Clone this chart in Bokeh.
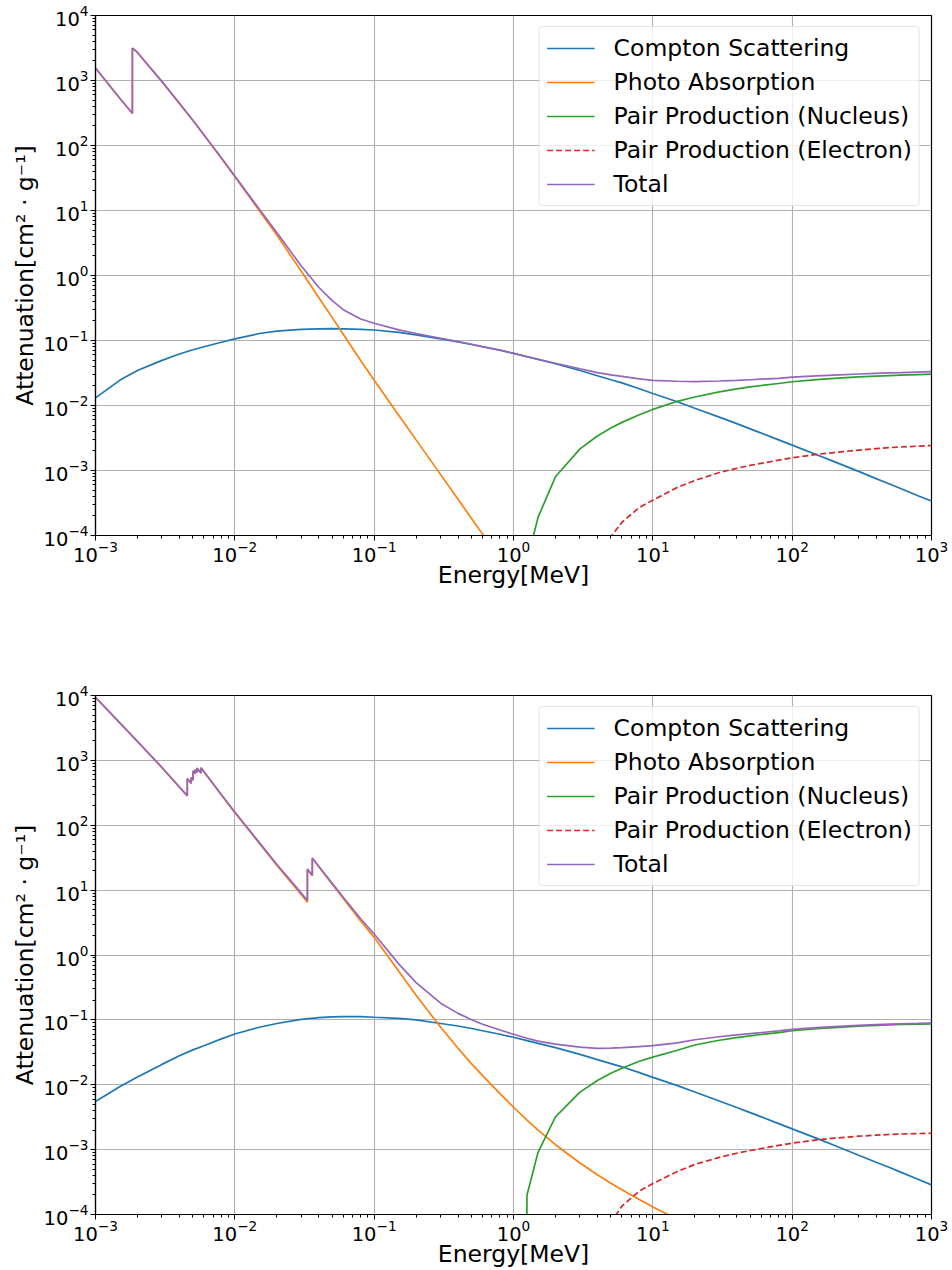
import numpy as np
from bokeh.plotting import figure
from bokeh.models import Range1d, FixedTicker, LogTickFormatter
from bokeh.layouts import column
from bokeh.embed import file_html
from bokeh.resources import INLINE

# ---------------- Data: upper panel (Si) ----------------
si_compton_E = [0.001, 0.0015, 0.002, 0.003, 0.004, 0.005, 0.006, 0.008, 0.01, 0.015, 0.02, 0.03, 0.04, 0.05,
                0.06, 0.08, 0.1, 0.15, 0.2, 0.3, 0.4, 0.5, 0.6, 0.8, 1.0, 1.25, 1.5, 2.0, 3.0, 4.0, 5.0, 6.0, 8.0,
                10.0, 15.0, 20.0, 30.0, 40.0, 50.0, 60.0, 80.0, 100.0, 150.0, 200.0, 300.0, 400.0, 500.0, 600.0,
                800.0, 1000.0]
si_compton = [0.0131, 0.0246, 0.0345, 0.0495, 0.062, 0.072, 0.080, 0.094, 0.106, 0.128, 0.139, 0.148, 0.151, 0.152,
              0.151, 0.148, 0.145, 0.1335, 0.122, 0.106, 0.095, 0.0869, 0.0801, 0.0707, 0.0634, 0.0563, 0.0512,
              0.0439, 0.0346, 0.0287, 0.0249, 0.0223, 0.0181, 0.0153, 0.0114, 0.00908, 0.00662, 0.00526, 0.00437,
              0.00376, 0.00296, 0.00246, 0.00175, 0.00137, 0.00097, 0.00075, 0.00062, 0.00053, 0.00041, 0.00034]

si_photo_E = [0.001, 0.0015, 0.001839, 0.001839, 0.002, 0.003, 0.004, 0.005, 0.006, 0.008, 0.01, 0.015, 0.02, 0.03,
              0.04, 0.05, 0.06, 0.08, 0.1, 0.15, 0.2, 0.3, 0.4, 0.5, 0.6, 0.8, 1.0]
si_photo = [1550, 525, 310, 3140, 2700, 960, 445, 242, 145, 63.5, 33.0, 9.9, 4.2, 1.16, 0.46, 0.225, 0.125, 0.0494,
            0.0244, 0.0071, 0.00296, 0.000864, 0.000361, 0.000183, 0.000105, 5.5e-5, 3.3e-5]

si_pairn_E = [1.022, 1.25, 1.5, 2.0, 3.0, 4.0, 5.0, 6.0, 8.0, 10.0, 15.0, 20.0, 30.0, 40.0, 50.0, 60.0, 80.0, 100.0,
              150.0, 200.0, 300.0, 400.0, 500.0, 600.0, 800.0, 1000.0]
si_pairn = [0.0, 4e-5, 1.9e-4, 8e-4, 2.15e-3, 3.4e-3, 4.5e-3, 5.5e-3, 7.2e-3, 8.7e-3, 1.16e-2, 1.35e-2, 1.62e-2,
            1.8e-2, 1.93e-2, 2.03e-2, 2.18e-2, 2.32e-2, 2.5e-2, 2.61e-2, 2.75e-2, 2.83e-2, 2.89e-2, 2.93e-2,
            2.99e-2, 3.03e-2]

si_paire_E = [2.044, 3.0, 4.0, 5.0, 6.0, 8.0, 10.0, 15.0, 20.0, 30.0, 40.0, 50.0, 60.0, 80.0, 100.0, 150.0, 200.0,
              300.0, 400.0, 500.0, 600.0, 800.0, 1000.0]
si_paire = [0.0, 6e-6, 3e-5, 9.5e-5, 1.6e-4, 2.7e-4, 3.5e-4, 5.5e-4, 7.0e-4, 9.3e-4, 1.08e-3, 1.2e-3, 1.29e-3,
            1.44e-3, 1.57e-3, 1.77e-3, 1.89e-3, 2.06e-3, 2.17e-3, 2.25e-3, 2.3e-3, 2.37e-3, 2.42e-3]

si_total_E = [0.001, 0.0015, 0.001839, 0.001839, 0.002, 0.003, 0.004, 0.005, 0.006, 0.008, 0.01, 0.015, 0.02, 0.03,
              0.04, 0.05, 0.06, 0.08, 0.1, 0.15, 0.2, 0.3, 0.4, 0.5, 0.6, 0.8, 1.0, 1.25, 1.5, 2.0, 3.0, 4.0, 5.0,
              6.0, 8.0, 10.0, 15.0, 20.0, 30.0, 40.0, 50.0, 60.0, 80.0, 100.0, 150.0, 200.0, 300.0, 400.0, 500.0,
              600.0, 800.0, 1000.0]
si_total = [1555, 529, 313, 3144, 2703, 962, 447, 244, 146.5, 64.6, 33.9, 10.45, 4.6, 1.40, 0.66, 0.41, 0.298, 0.214,
            0.184, 0.1456, 0.128, 0.1082, 0.0962, 0.0875, 0.0806, 0.071, 0.0636, 0.0564, 0.0514, 0.0447, 0.0368,
            0.0321, 0.0295, 0.0280, 0.0256, 0.0244, 0.0236, 0.0233, 0.0238, 0.0243, 0.0249, 0.0254, 0.0262, 0.0273,
            0.0285, 0.0294, 0.0305, 0.0312, 0.0318, 0.0321, 0.0327, 0.0331]

# ---------------- Data: lower panel (CsI) ----------------
csi_compton_E = si_compton_E
csi_compton = [0.0055, 0.0094, 0.0132, 0.0206, 0.0279, 0.0345, 0.040, 0.051, 0.0605, 0.077, 0.088, 0.102, 0.108,
               0.111, 0.112, 0.1125, 0.1097, 0.1055, 0.100, 0.088, 0.0805, 0.0737, 0.068, 0.060, 0.0539, 0.0479,
               0.0435, 0.0374, 0.0294, 0.0244, 0.0212, 0.0189, 0.0154, 0.0130, 0.0097, 0.00772, 0.00563, 0.00447,
               0.00372, 0.0032, 0.00252, 0.00209, 0.00149, 0.00117, 0.00082, 0.00064, 0.00053, 0.00045, 0.00035,
               0.000286]

csi_photo_E = [0.001, 0.0015, 0.002, 0.003, 0.004, 0.004557, 0.004557, 0.004852, 0.004852, 0.005012, 0.005012,
               0.005188, 0.005188, 0.005359, 0.005359, 0.005714, 0.005714, 0.006, 0.008, 0.01, 0.015, 0.02, 0.03,
               0.03317, 0.03317, 0.03598, 0.03598, 0.04, 0.05, 0.06, 0.08, 0.1, 0.15, 0.2, 0.3, 0.4, 0.5, 0.6, 0.8,
               1.0, 1.25, 1.5, 2.0, 3.0, 4.0, 5.0, 6.0, 8.0, 10.0, 15.0, 20.0]
csi_photo = [9380, 3745, 1952, 772, 386, 283, 522, 442, 542, 494, 687, 623, 717, 652, 757, 636, 767, 667, 294, 156,
             52.5, 24.2, 8.5, 6.49, 20.8, 16.6, 30.9, 23.0, 12.3, 7.45, 3.35, 1.87, 0.56, 0.24, 0.077, 0.0365,
             0.021, 0.0138, 0.0073, 0.0045, 0.00285, 0.0020, 0.00119, 0.000622, 0.00041, 0.000303, 0.00024,
             0.00017, 0.000131, 8.4e-5, 6.2e-5]

csi_pairn_E = si_pairn_E
csi_pairn = [0.0, 2.0e-4, 9.1e-4, 3.2e-3, 7.7e-3, 1.16e-2, 1.5e-2, 1.8e-2, 2.3e-2, 2.66e-2, 3.4e-2, 4.1e-2, 4.85e-2,
             5.33e-2, 5.68e-2, 5.95e-2, 6.38e-2, 6.8e-2, 7.3e-2, 7.6e-2, 8.0e-2, 8.25e-2, 8.4e-2, 8.5e-2, 8.6e-2,
             8.7e-2]

csi_paire_E = si_paire_E
csi_paire = [0.0, 3e-6, 1.5e-5, 7.5e-5, 1.35e-4, 2.3e-4, 3.0e-4, 4.6e-4, 5.9e-4, 7.6e-4, 8.8e-4, 9.7e-4, 1.04e-3,
             1.16e-3, 1.26e-3, 1.41e-3, 1.5e-3, 1.61e-3, 1.67e-3, 1.71e-3, 1.74e-3, 1.77e-3, 1.79e-3]

csi_total_E = [0.001, 0.0015, 0.002, 0.003, 0.004, 0.004557, 0.004557, 0.004852, 0.004852, 0.005012, 0.005012,
               0.005188, 0.005188, 0.005359, 0.005359, 0.005714, 0.005714, 0.006, 0.008, 0.01, 0.015, 0.02, 0.03,
               0.03317, 0.03317, 0.03598, 0.03598, 0.04, 0.05, 0.06, 0.08, 0.1, 0.15, 0.2, 0.3, 0.4, 0.5, 0.6, 0.8,
               1.0, 1.25, 1.5, 2.0, 3.0, 4.0, 5.0, 6.0, 8.0, 10.0, 15.0, 20.0, 30.0, 40.0, 50.0, 60.0, 80.0, 100.0,
               150.0, 200.0, 300.0, 400.0, 500.0, 600.0, 800.0, 1000.0]
csi_total = [9400, 3760, 1962, 778, 390, 286, 525, 445, 545, 497, 690, 626, 720, 655, 760, 639, 770, 671, 297, 160,
             54, 25.1, 9.0, 6.9, 21.2, 17.0, 31.3, 23.4, 12.7, 7.76, 3.62, 2.11, 0.73, 0.375, 0.181, 0.126, 0.1007,
             0.0858, 0.0698, 0.060, 0.052, 0.0471, 0.0422, 0.0379, 0.0364, 0.0366, 0.0373, 0.0388, 0.0400, 0.0442,
             0.0494, 0.0549, 0.0587, 0.0615, 0.0637, 0.0675, 0.0714, 0.0759, 0.0787, 0.0824, 0.0848, 0.0862,
             0.0872, 0.0881, 0.0891]

labels = ["Compton Scattering", "Photo Absorption", "Pair Production (Nucleus)",
          "Pair Production (Electron)", "Total"]
colors = ["#1f77b4", "#ff7f0e", "#2ca02c", "#d62728", "#9467bd"]
dashes = ["solid", "solid", "solid", "6 3", "solid"]

x_major = [10.0 ** k for k in range(-3, 4)]
x_minor = [m * 10.0 ** k for k in range(-3, 3) for m in range(2, 10)]
y_major = [10.0 ** k for k in range(-4, 5)]
y_minor = [m * 10.0 ** k for k in range(-4, 4) for m in range(2, 10)]

FONT = "DejaVu Sans"


def floor_nonpositive(values):
    # emulate log-axis clipping of non-positive values
    return [v if v > 0 else 1e-30 for v in values]


def make_panel(series, height, top, bottom):
    p = figure(width=952, height=height, x_axis_type="log", y_axis_type="log",
               x_range=Range1d(1e-3, 1e3), y_range=Range1d(1e-4, 1e4),
               output_backend="svg", toolbar_location=None,
               min_border_left=95, min_border_right=21, min_border_top=top, min_border_bottom=bottom)
    p.outline_line_color = "black"
    p.outline_line_width = 1.2
    p.outline_line_alpha = 1.0
    for (xs, ys), lab, col, dash in zip(series, labels, colors, dashes):
        p.line(xs, floor_nonpositive(ys), line_color=col, line_width=1.7, line_dash=dash, legend_label=lab)

    p.xaxis.ticker = FixedTicker(ticks=x_major, minor_ticks=x_minor)
    p.yaxis.ticker = FixedTicker(ticks=y_major, minor_ticks=y_minor)
    p.xaxis.formatter = LogTickFormatter()
    p.yaxis.formatter = LogTickFormatter()
    p.xaxis.axis_label = "Energy[MeV]"
    p.yaxis.axis_label = "Attenuation[cm² · g⁻¹]"
    for ax in (p.xaxis[0], p.yaxis[0]):
        ax.major_label_text_font = FONT
        ax.major_label_text_font_size = "19.5px"
        ax.major_label_text_color = "black"
        ax.axis_label_text_font = FONT
        ax.axis_label_text_font_size = "23.5px"
        ax.axis_label_text_font_style = "normal"
        ax.axis_label_text_color = "black"
        ax.axis_line_color = "black"
        ax.axis_line_width = 1.2
        ax.major_tick_line_color = "black"
        ax.minor_tick_line_color = "black"
        ax.major_tick_in = 0
        ax.major_tick_out = 5
        ax.minor_tick_in = 0
        ax.minor_tick_out = 3
    p.xaxis[0].major_label_standoff = 0
    p.xaxis[0].axis_label_standoff = -4
    p.yaxis[0].major_label_standoff = 2
    p.yaxis[0].axis_label_standoff = 2
    p.xgrid.grid_line_color = "#b0b0b0"
    p.ygrid.grid_line_color = "#b0b0b0"
    p.xgrid.grid_line_width = 1.1
    p.ygrid.grid_line_width = 1.1

    lg = p.legend[0]
    lg.location = "top_right"
    lg.margin = 11
    lg.padding = 7
    lg.spacing = 6
    lg.glyph_width = 48
    lg.glyph_height = 28
    lg.label_height = 28
    lg.label_standoff = 19
    lg.label_text_font = FONT
    lg.label_text_font_size = "23.5px"
    lg.label_text_color = "black"
    lg.border_line_color = "#cccccc"
    lg.border_line_width = 1
    lg.background_fill_color = "white"
    lg.background_fill_alpha = 0.8
    try:
        lg.border_radius = 4
    except Exception:
        pass
    return p


top_series = [(si_compton_E, si_compton), (si_photo_E, si_photo), (si_pairn_E, si_pairn),
              (si_paire_E, si_paire), (si_total_E, si_total)]
bot_series = [(csi_compton_E, csi_compton), (csi_photo_E, csi_photo), (csi_pairn_E, csi_pairn),
              (csi_paire_E, csi_paire), (csi_total_E, csi_total)]

p1 = make_panel(top_series, height=600, top=15, bottom=65)
p2 = make_panel(bot_series, height=670, top=95, bottom=56)

layout = column(p1, p2)
open("out.html", "w").write(file_html(layout, INLINE))
